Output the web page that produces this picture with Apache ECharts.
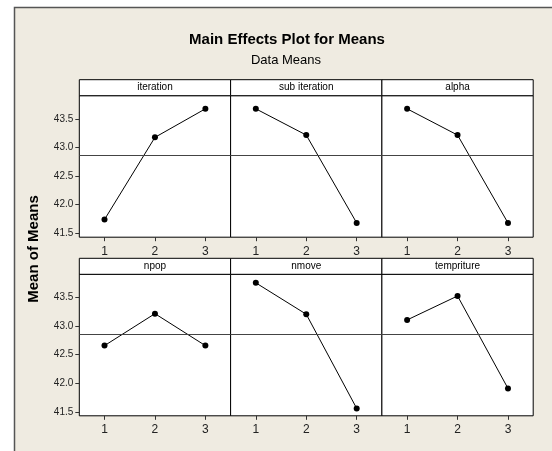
<!DOCTYPE html>
<html>
<head>
<meta charset="utf-8">
<script src="https://cdn.jsdelivr.net/npm/echarts@6/dist/echarts.min.js"></script>
<style>html,body{margin:0;padding:0;background:#fff;}#c{width:552px;height:451px;}</style>
</head>
<body>
<div id="c"></div>
<script>
// ---- data ----
const levels = ['1', '2', '3'];
const factors = ['iteration', 'sub iteration', 'alpha', 'npop', 'nmove', 'tempriture'];
const iteration = [41.74, 43.18, 43.68];
const subIteration = [43.68, 43.22, 41.68];
const alpha = [43.68, 43.22, 41.68];
const npop = [42.66, 43.22, 42.66];
const nmove = [43.76, 43.21, 41.56];
const tempriture = [43.11, 43.53, 41.91];
const yTicks = [41.5, 42.0, 42.5, 43.0, 43.5];
const grandMean = 42.86;
const titleText = 'Main Effects Plot for Means';
const subtitleText = 'Data Means';
const yTitle = 'Mean of Means';

const seriesValues = [iteration, subIteration, alpha, npop, nmove, tempriture];

// ---- layout ----
const FONT = 'Liberation Sans, Arial, sans-serif';
const L = 79.3, W = 151.3, H = 141.5;
const rowTop = [95.7, 274.3];
const stripH = 16;
const yMin = 41.43, yMax = 43.91;

const grids = [], xAxes = [], yAxes = [], series = [], graphics = [];

graphics.push({
  type: 'rect', z: -100,
  shape: { x: 14.5, y: 7.5, width: 600, height: 500 },
  style: { fill: '#EFEBE1', stroke: '#555', lineWidth: 1.5 }
});
graphics.push({
  type: 'text', x: 287, y: 40,
  style: { text: titleText, font: 'bold 15px ' + FONT, fill: '#000', align: 'center', verticalAlign: 'middle' }
});
graphics.push({
  type: 'text', x: 286, y: 60,
  style: { text: subtitleText, font: '13px ' + FONT, fill: '#000', align: 'center', verticalAlign: 'middle' }
});
graphics.push({
  type: 'text', x: 34, y: 249, rotation: Math.PI / 2,
  style: { text: yTitle, font: 'bold 15px ' + FONT, fill: '#000', align: 'center', verticalAlign: 'middle' }
});

factors.forEach((name, i) => {
  const r = Math.floor(i / 3), c = i % 3;
  const left = L + c * W, top = rowTop[r];
  grids.push({
    left: left, top: top, width: W, height: H,
    show: true, backgroundColor: '#fff', borderColor: '#000', borderWidth: 1,
    containLabel: false
  });
  xAxes.push({
    type: 'category', gridIndex: i, data: levels, boundaryGap: true,
    axisLine: { show: false },
    axisTick: { show: true, alignWithLabel: true, length: 4, lineStyle: { color: '#333' } },
    axisLabel: { show: true, margin: 8, fontSize: 12, fontFamily: FONT, color: '#222' },
    splitLine: { show: false }
  });
  yAxes.push({
    type: 'value', gridIndex: i, min: yMin, max: yMax,
    axisLine: { show: false },
    axisTick: { show: c === 0, length: 4, customValues: yTicks, lineStyle: { color: '#333' } },
    axisLabel: {
      show: c === 0, customValues: yTicks, margin: 6, fontSize: 10, fontFamily: FONT, color: '#222',
      formatter: v => Number(v).toFixed(1)
    },
    splitLine: { show: false }
  });
  series.push({
    type: 'line', xAxisIndex: i, yAxisIndex: i,
    data: seriesValues[i],
    symbol: 'circle', symbolSize: 6,
    itemStyle: { color: '#000' },
    lineStyle: { color: '#000', width: 1 },
    animation: false,
    markLine: {
      silent: true, symbol: 'none', animation: false,
      label: { show: false },
      lineStyle: { color: '#444', width: 1, type: 'solid' },
      data: [{ yAxis: grandMean }]
    }
  });
  const sTop = top - stripH;
  graphics.push({
    type: 'rect',
    shape: { x: left, y: sTop, width: W, height: stripH },
    style: { fill: '#fff', stroke: '#000', lineWidth: 1 }
  });
  graphics.push({
    type: 'text', x: left + W / 2, y: sTop + stripH / 2,
    style: { text: name, font: '10px ' + FONT, fill: '#000', align: 'center', verticalAlign: 'middle' }
  });
});

const chart = echarts.init(document.getElementById('c'), null, { renderer: 'canvas' });
chart.setOption({
  backgroundColor: '#fff',
  animation: false,
  grid: grids,
  xAxis: xAxes,
  yAxis: yAxes,
  series: series,
  graphic: graphics
});
</script>
</body>
</html>
